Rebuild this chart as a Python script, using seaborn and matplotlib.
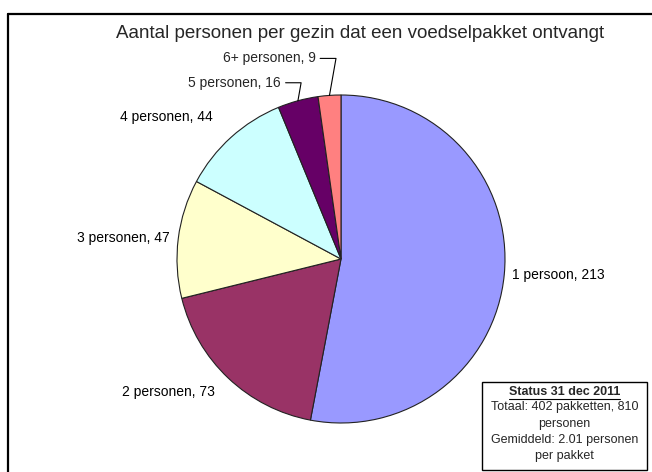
import numpy as np
import matplotlib
matplotlib.use("Agg")
import matplotlib.pyplot as plt
import seaborn as sns
from matplotlib.patches import Rectangle
from matplotlib.lines import Line2D

# data
categories = ["1 persoon", "2 personen", "3 personen", "4 personen", "5 personen", "6+ personen"]
counts = [213, 73, 47, 44, 16, 9]
colors = ["#9999FF", "#993366", "#FFFFCC", "#CCFFFF", "#660066", "#FF8080"]
title = "Aantal personen per gezin dat een voedselpakket ontvangt"
status_title = "Status 31 dec 2011"
status_lines = ["Totaal: 402 pakketten, 810", "personen", "Gemiddeld: 2.01 personen", "per pakket"]

sns.set_style("white")
plt.rcParams["font.family"] = ["Liberation Sans", "DejaVu Sans"]

W, H = 652, 472
fig = plt.figure(figsize=(W / 100, H / 100), dpi=100)

# pie axes: centre (341, 259) px, radius 164 px
cx, cy, r = 341, 259, 164
ax = fig.add_axes([(cx - r) / W, (H - cy - r) / H, 2 * r / W, 2 * r / H])

main_labels = [f"{c}, {n}" for c, n in zip(categories, counts)]
dists = [1.05, 1.12, 1.05, 1.17]
wedges, _ = ax.pie(counts, colors=colors, startangle=90, counterclock=False,
                   radius=1, frame=True,
                   wedgeprops=dict(edgecolor="#222222", linewidth=0.8))
ax.axis("off")
ax.set_xlim(-1, 1)
ax.set_ylim(-1, 1)

offsets = {4: (-17, 18), 5: (-14, 37)}
for i, w in enumerate(wedges):
    ang = np.deg2rad((w.theta1 + w.theta2) / 2)
    x, y = np.cos(ang), np.sin(ang)
    if i < 4:
        d = dists[i]
        ax.text(d * x, d * y, main_labels[i], ha="left" if x > 0 else "right",
                va="center", fontsize=10, color="black")
    else:
        ax.annotate(main_labels[i], xy=(x, y), xytext=offsets[i],
                    textcoords="offset pixels", ha="right", va="center",
                    fontsize=10,
                    arrowprops=dict(arrowstyle="-", color="black", lw=0.8,
                                    relpos=(1, 0.5), shrinkA=1, shrinkB=0,
                                    connectionstyle="angle,angleA=0,angleB=80,rad=0"))

fig.text(360 / W, 1 - 33 / H, title, ha="center", va="center", fontsize=13.5)

# outer chart border (only top and left visible)
fig.add_artist(Line2D([8 / W, 1.0], [1 - 14 / H, 1 - 14 / H], color="black", lw=1.6,
                      transform=fig.transFigure))
fig.add_artist(Line2D([8 / W, 8 / W], [0, 1 - 14 / H], color="black", lw=1.6,
                      transform=fig.transFigure))

# status box
bx0, by0, bx1, by1 = 482, 382, 647, 470
fig.add_artist(Rectangle((bx0 / W, 1 - by1 / H), (bx1 - bx0) / W, (by1 - by0) / H,
                         transform=fig.transFigure, facecolor="white",
                         edgecolor="black", lw=1.0))
tx = (bx0 + bx1) / 2 / W
st = fig.text(tx, 1 - 392 / H, status_title, ha="center", va="center",
              fontsize=9, fontweight="bold")
for k, line in enumerate(status_lines):
    fig.text(tx, 1 - (407 + 16.5 * k) / H, line, ha="center", va="center", fontsize=9)

fig.canvas.draw()
bb = st.get_window_extent(fig.canvas.get_renderer())
uy = (bb.y0 - 1) / H
fig.add_artist(Line2D([bb.x0 / W, bb.x1 / W], [uy, uy], color="black", lw=0.8,
                      transform=fig.transFigure))

fig.savefig("out.png", dpi=100)
